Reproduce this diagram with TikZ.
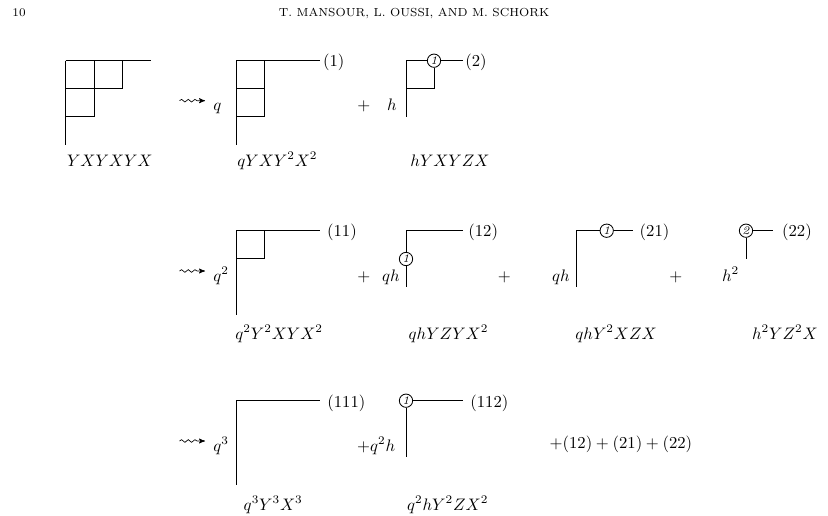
\documentclass[tikz,border=0pt]{standalone}
\usepackage{amssymb}
\usepackage{tikz}
\usetikzlibrary{positioning, arrows, decorations.pathmorphing}
\tikzset{
>=stealth', % small bold arrow heads
ring/.style={circle, draw, inner sep=0pt, minimum size=8pt, font=\scriptsize\itshape}, % circled marks
lbl/.style={anchor=base west, inner sep=0pt}, % text placed by its baseline
squig/.style={->, line width=0.4pt, decorate, decoration={snake, amplitude=0.8pt, segment length=4pt, post length=3pt}},
}
\begin{document}
\begin{tikzpicture}[x=0.6pt, y=-0.6pt, line width=0.5pt]
\useasboundingbox (0,0) rectangle (828,515);
% running head
\node[lbl, font=\scriptsize] (page) at (12,16) {10};
\node[anchor=base, inner sep=0pt, font=\scriptsize] (head) at (414,16) {T. MANSOUR, L. OUSSI, AND M. SCHORK};

% first row
\draw (65.7,60.7) -- (150.7,60.7);
\draw (65.7,60.7) -- (65.7,145);
\draw (65.7,88.7) -- (122.7,88.7) -- (122.7,60.7);
\draw (94,60.7) -- (94,116.7) -- (65.7,116.7);
\node[lbl] (w0) at (66.7,166) {$YXYXYX$};

\coordinate (s1) at (179.5,100.7);
\coordinate (t1) at (205,100.7);
\draw[squig] (s1) -- (t1);
\node[lbl] (f1) at (213,110.7) {$q$};
\draw (236,60.7) -- (320,60.7);
\draw (236,60.7) -- (236,145);
\draw (236,88.7) -- (264.3,88.7);
\draw (264.3,60.7) -- (264.3,116.7) -- (236,116.7);
\node[lbl] (n1) at (322.7,66) {(1)};
\node[lbl] (w1) at (237,166) {$qYXY^2X^2$};

\node[lbl] (p1) at (357,110.7) {$+$};
\node[lbl] (f2) at (386.7,110.7) {$h$};
\node[ring] (r1) at (434,60.7) {1};
\draw (406,116.7) -- (406,60.7) -- (r1);
\draw (r1) -- (463,60.7);
\draw (r1) -- (434,88.7) -- (406,88.7);
\node[lbl] (n2) at (465,66) {(2)};
\node[lbl] (w2) at (410,166) {$hYXYZX$};

% second row
\coordinate (s2) at (179.5,271);
\coordinate (t2) at (205,271);
\draw[squig] (s2) -- (t2);
\node[lbl] (f11) at (213,281) {$q^2$};
\draw (236,230.7) -- (320,230.7);
\draw (236,230.7) -- (236,315);
\draw (236,258.7) -- (264.3,258.7) -- (264.3,230.7);
\node[lbl] (n11) at (326.7,236) {(11)};
\node[lbl] (w11) at (235,339) {$q^2Y^2XYX^2$};

\node[lbl] (p11) at (357,281) {$+$};
\node[lbl] (f12) at (381.7,281) {$qh$};
\node[ring] (r12) at (406,259) {1};
\draw (r12) -- (406,230.7) -- (462.7,230.7);
\draw (r12) -- (406,286.7);
\node[lbl] (n12) at (468,236) {(12)};
\node[lbl] (w12) at (408.3,339) {$qhYZYX^2$};

\node[lbl] (p12) at (497.5,281) {$+$};
\node[lbl] (f21) at (551.7,281) {$qh$};
\node[ring] (r21) at (606.7,230.7) {1};
\draw (576.7,286.7) -- (576.7,230.7) -- (r21);
\draw (r21) -- (633.3,230.7);
\node[lbl] (n21) at (639.3,236) {(21)};
\node[lbl] (w21) at (575,339) {$qhY^2XZX$};

\node[lbl] (p21) at (669,281) {$+$};
\node[lbl] (f22) at (721.7,281) {$h^2$};
\node[ring] (r22) at (746,230.7) {2};
\draw (r22) -- (773,230.7);
\draw (r22) -- (746,258.7);
\node[lbl] (n22) at (781.7,236) {(22)};
\node[lbl] (w22) at (751.7,339) {$h^2YZ^2X$};

% third row
\coordinate (s3) at (179.5,441);
\coordinate (t3) at (205,441);
\draw[squig] (s3) -- (t3);
\node[lbl] (f111) at (213,451) {$q^3$};
\draw (236,400.7) -- (320,400.7);
\draw (236,400.7) -- (236,485);
\node[lbl] (n111) at (327,407) {(111)};
\node[lbl] (w111) at (243.3,510) {$q^3Y^3X^3$};

\node[lbl] (f112) at (356.7,451) {$+q^2h$};
\node[ring] (r112) at (406,400.7) {1};
\draw (r112) -- (462.7,400.7);
\draw (r112) -- (406,457);
\node[lbl] (n112) at (470,407) {(112)};
\node[lbl] (w112) at (406.7,510) {$q^2hY^2ZX^2$};

\node[lbl] (rest) at (549.3,448) {$+(12)+(21)+(22)$};
\end{tikzpicture}
\end{document}
